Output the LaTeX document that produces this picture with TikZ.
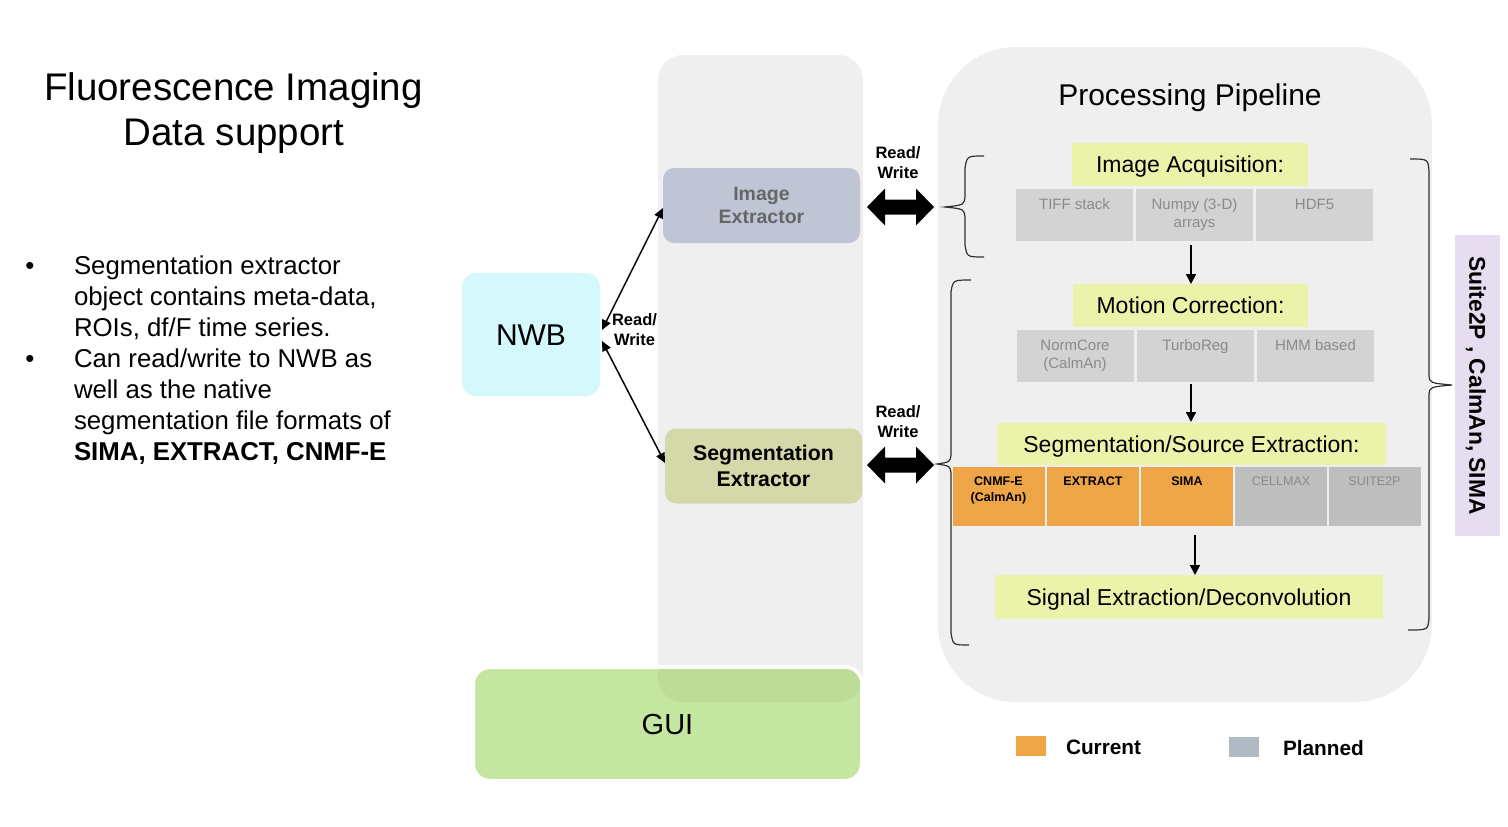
\documentclass[tikz,border=0pt]{standalone}
\usepackage{fontspec}
\setmainfont{Liberation Sans}
\usetikzlibrary{arrows.meta,calc}
\definecolor{panel}{HTML}{EFEFEF}
\definecolor{nwbc}{HTML}{D4F8FC}
\definecolor{imgc}{HTML}{C0C5D5}
\definecolor{imgtxt}{HTML}{666666}
\definecolor{segc}{HTML}{D5D8A8}
\definecolor{ylw}{HTML}{EBF2AA}
\definecolor{cellg}{HTML}{D3D3D3}
\definecolor{celltx}{HTML}{8A8A8A}
\definecolor{orng}{HTML}{EEA548}
\definecolor{plang}{HTML}{BEBEBE}
\definecolor{guic}{HTML}{C5E6A0}
\definecolor{guidark}{HTML}{BDDD97}
\definecolor{legg}{HTML}{AFBAC4}
\definecolor{lav}{HTML}{E6DEF0}
\definecolor{bracec}{HTML}{303030}
\newcommand\myfs[2]{\fontsize{#1}{#2}\selectfont}
\newcommand\mybigarrow[2]{%
  \fill ($(#1)$) -- ($(#1)+(18,-18.5)$) -- ($(#1)+(18,-7.5)$) -- ($(#2)+(-18,-7.5)$) --
  ($(#2)+(-18,-18.5)$) -- (#2) -- ($(#2)+(-18,18.5)$) -- ($(#2)+(-18,7.5)$) --
  ($(#1)+(18,7.5)$) -- ($(#1)+(18,18.5)$) -- cycle;}
\begin{document}
\begin{tikzpicture}[x=1pt,y=-1pt,
  every node/.style={inner sep=0pt, outer sep=0pt},
  title/.style={font=\myfs{38.5}{45}, anchor=base},
  btxt/.style={font=\myfs{25.8}{31}, anchor=base west},
  ybox/.style={fill=ylw, font=\myfs{23}{28}, text height=16.5pt, text depth=0pt},
  cell/.style={fill=cellg, minimum width=117pt, minimum height=52pt},
  celltxt/.style={font=\myfs{15}{18}, text=celltx, align=center, anchor=north},
  scell/.style={fill=orng, minimum width=92pt, minimum height=59pt},
  stxt/.style={font=\bfseries\myfs{12.5}{16}, align=center, anchor=north},
  rw/.style={font=\bfseries\myfs{16.5}{20}, align=center},
  thinarrow/.style={line width=1.5pt, {Triangle[length=10pt,width=9pt]}-{Triangle[length=10pt,width=9pt]}},
  downarrow/.style={line width=1.6pt, -{Triangle[length=10pt,width=10pt]}},
  bracepath/.style={line width=1.2pt, draw=bracec},
  legtxt/.style={font=\bfseries\myfs{20.8}{25}, anchor=west, text height=14.9pt, text depth=0pt}
]
\useasboundingbox (0,0) rectangle (1508,827);
\fill[white] (0,0) rectangle (1508,827);

% Title
\node[title] (t1) at (233.5,100.6) {Fluorescence Imaging};
\node[title] (t2) at (234,145.6) {Data support};

% Bullets
\node[btxt, anchor=base] (d1) at (30,274) {•};
\node[btxt, anchor=base] (d2) at (30,367) {•};
\node[btxt] (l1) at (74,274) {Segmentation extractor};
\node[btxt] (l2) at (74,305) {object contains meta-data,};
\node[btxt] (l3) at (74,336) {ROIs, df/F time series.};
\node[btxt] (l4) at (74,367) {Can read/write to NWB as};
\node[btxt] (l5) at (74,398) {well as the native};
\node[btxt] (l6) at (74,429) {segmentation file formats of};
\node[btxt] (l7) at (74,460) {\bfseries SIMA, EXTRACT, CNMF-E};

% Column and GUI
\node[fill=panel, rounded corners=25pt, minimum width=205pt, minimum height=647pt] (col) at (760.5,378.5) {};
\node[fill=guic, draw=white, line width=4pt, rounded corners=17pt, minimum width=389pt, minimum height=114pt,
      font=\myfs{29}{34}, text height=20.8pt, text depth=0pt] (gui) at (667.5,724) {GUI};
\begin{scope}
  \clip[rounded corners=15pt] (475,669) rectangle (860,779);
  \fill[guidark, rounded corners=25pt] (658,55) rectangle (863,702);
\end{scope}

% NWB
\node[fill=nwbc, rounded corners=14pt, minimum width=138pt, minimum height=123pt,
      font=\myfs{30}{36}, text height=21.5pt, text depth=0pt] (nwb) at (531,334.5) {NWB};

% Extractors
\node[fill=imgc, rounded corners=11pt, minimum width=197pt, minimum height=75pt,
      font=\bfseries\myfs{19.5}{23}, text=imgtxt, align=center] (ie) at (761.5,205.5) {Image\\Extractor};
\node[fill=segc, rounded corners=11pt, minimum width=197pt, minimum height=75pt,
      font=\bfseries\myfs{21.3}{26}, align=center] (se) at (763.5,466) {Segmentation\\Extractor};

% NWB arrows
\coordinate (n1) at (602,330);
\coordinate (n2) at (602,341);
\coordinate (ie1) at (663,208);
\coordinate (se1) at (665,463);
\draw[thinarrow] (n1) -- (ie1);
\draw[thinarrow] (n2) -- (se1);
\node[rw] (rw0) at (634.5,330) {Read/\\Write};

% Pipeline panel
\node[fill=panel, rounded corners=78pt, minimum width=494pt, minimum height=655pt] (pipe) at (1185,374.5) {};
\node[font=\myfs{30}{36}, text height=21.5pt, text depth=0pt] (ptitle) at (1190,95) {Processing Pipeline};

% Big read/write arrows
\coordinate (ba1) at (867,207);
\coordinate (bb1) at (934,207);
\coordinate (ba2) at (867,465);
\coordinate (bb2) at (934,465);
\mybigarrow{ba1}{bb1}
\mybigarrow{ba2}{bb2}
\node[rw] (rw1) at (898,163) {Read/\\Write};
\node[rw] (rw2) at (898,421.5) {Read/\\Write};

% Image acquisition
\node[ybox, minimum width=236pt, minimum height=43pt] (ia) at (1190,164.5) {Image Acquisition:};
\node[cell] (ia1) at (1074.5,215) {};
\node[cell] (ia2) at (1194.5,215) {};
\node[cell] (ia3) at (1314.5,215) {};
\node[celltxt] (ia1t) at ($(ia1.north)+(0,10)$) {TIFF stack};
\node[celltxt] (ia2t) at ($(ia2.north)+(0,10)$) {Numpy (3-D)\\arrays};
\node[celltxt] (ia3t) at ($(ia3.north)+(0,10)$) {HDF5};

% Motion correction
\node[ybox, minimum width=235pt, minimum height=43pt] (mc) at (1190.5,305.5) {Motion Correction:};
\node[cell] (mc1) at (1075,356) {};
\node[cell] (mc2) at (1195.5,356) {};
\node[cell] (mc3) at (1315.5,356) {};
\node[celltxt] (mc1t) at ($(mc1.north)+(0,10)$) {NormCore\\(CalmAn)};
\node[celltxt] (mc2t) at ($(mc2.north)+(0,10)$) {TurboReg};
\node[celltxt] (mc3t) at ($(mc3.north)+(0,10)$) {HMM based};

% Segmentation / source extraction
\node[ybox, minimum width=389pt, minimum height=42pt] (ss) at (1191.5,444) {Segmentation/Source Extraction:};
\node[scell] (s1) at (998.5,496.5) {};
\node[scell] (s2) at (1093,496.5) {};
\node[scell] (s3) at (1187,496.5) {};
\node[scell, fill=plang] (s4) at (1281,496.5) {};
\node[scell, fill=plang] (s5) at (1374.5,496.5) {};
\node[stxt] (s1t) at ($(s1.north)+(0,9.5)$) {CNMF-E\\(CalmAn)};
\node[stxt] (s2t) at ($(s2.north)+(0,9.5)$) {EXTRACT};
\node[stxt] (s3t) at ($(s3.north)+(0,9.5)$) {SIMA};
\node[stxt, font=\myfs{12.5}{16}, text=celltx] (s4t) at ($(s4.north)+(0,9.5)$) {CELLMAX};
\node[stxt, font=\myfs{12.5}{16}, text=celltx] (s5t) at ($(s5.north)+(0,9.5)$) {SUITE2P};

% Signal extraction
\node[ybox, minimum width=388pt, minimum height=44pt] (sig) at (1189,597) {Signal Extraction/Deconvolution};

% Down arrows
\coordinate (a1s) at (1191,245);
\coordinate (a1e) at (1191,284);
\coordinate (a2s) at (1191,384);
\coordinate (a2e) at (1191,422);
\coordinate (a3s) at (1195,535);
\coordinate (a3e) at (1195,575);
\draw[downarrow] (a1s) -- (a1e);
\draw[downarrow] (a2s) -- (a2e);
\draw[downarrow] (a3s) -- (a3e);

% Braces
\draw[bracepath] (984,156) .. controls (967,156) .. (965,168) -- (965,197)
  .. controls (964,205) .. (945,207) .. controls (964,209) .. (965,217) -- (965,245)
  .. controls (967,257) .. (984,257);
\draw[bracepath] (971,280) .. controls (953,280) .. (951,292) -- (951,455)
  .. controls (950,462) .. (937,464) .. controls (950,466) .. (951,473) -- (951,633)
  .. controls (953,645) .. (969,645);
\draw[bracepath] (1410,159) .. controls (1428,159) .. (1429,171) -- (1429,376)
  .. controls (1430,383) .. (1452,385) .. controls (1430,387) .. (1429,394) -- (1429,618)
  .. controls (1428,630) .. (1408,630);

% Side label
\node[fill=lav, rotate=-90, minimum width=301pt, minimum height=45pt,
      font=\bfseries\myfs{22.8}{27}, text height=16.3pt, text depth=0pt] (s2p) at (1477.5,385.5) {Suite2P , CalmAn, SIMA};

% Legend
\node[fill=orng, minimum width=30pt, minimum height=20pt] (lg1) at (1031,746) {};
\node[legtxt] (lg1t) at (1066,747) {Current};
\node[fill=legg, minimum width=30pt, minimum height=20pt] (lg2) at (1244,747) {};
\node[legtxt] (lg2t) at (1283,748) {Planned};
\end{tikzpicture}
\end{document}
